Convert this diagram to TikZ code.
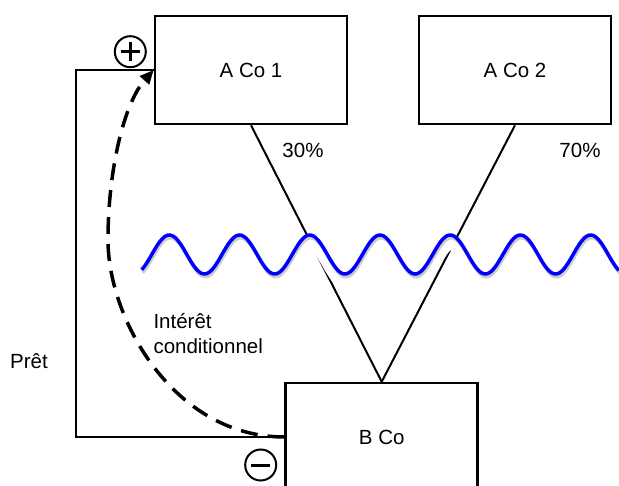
\documentclass[tikz,border=0pt]{standalone}
\usepackage{fontspec}
\setmainfont{Liberation Sans}
\usetikzlibrary{arrows.meta}
\begin{document}
\begin{tikzpicture}[x=1pt, y=-1pt,
		box/.style={draw, line width=2.5pt, minimum width=192pt, minimum height=108pt, font=\fontsize{20.5}{25}\selectfont},
		txt/.style={inner sep=0pt, font=\fontsize{20.5}{25}\selectfont},
		sign/.style={draw, circle, line width=2pt, minimum size=31pt, inner sep=0pt},
		link/.style={line width=2pt},
		pretline/.style={line width=2.5pt},
		dashline/.style={line width=3.5pt, dash pattern=on 17pt off 10pt, -{Triangle[length=14pt, width=12pt]}},
		wave/.style={blue, line width=3.5pt}]
	\path[use as bounding box] (0,0) rectangle (619,486);
	\clip (0,0) rectangle (619,486);
	\node[box] (aco1) at (251,70) {A Co 1};
	\node[box] (aco2) at (515,70) {A Co 2};
	\node[box] (bco) at (381.7,437) {B Co};
	\node[txt] (p30) at (303,150) {30\%};
	\node[txt] (p70) at (580,150) {70\%};
	\node[txt, anchor=base west] (pret) at (10,368.3) {Prêt};
	\node[txt, anchor=base west, align=left] (interet) at (153.3,353.3) {Intérêt\\conditionnel};
	\node[sign] (plus) at (130.3,51.7) {};
	\node[sign] (minus) at (260.7,465) {};
	\draw[line width=3pt] (plus.center) +(-9.5,0) -- +(9.5,0) (plus.center) +(0,-9.5) -- +(0,9.5);
	\draw[line width=3pt] (minus.center) +(-9.5,0) -- +(9.5,0);
	\draw[link] (aco1.south) -- (bco.north);
	\draw[link] (aco2.south) -- (bco.north);
	\draw[white, line width=14pt, shift={(1,8)}] plot[domain=141.7:619, samples=240] (\x, {254.5-19.5*cos(5.12601*(\x-169.3))});
	\draw[black!20, line width=3pt, shift={(1,3)}] plot[domain=141.7:619, samples=240] (\x, {254.5-19.5*cos(5.12601*(\x-169.3))});
	\draw[wave] plot[domain=141.7:619, samples=240] (\x, {254.5-19.5*cos(5.12601*(\x-169.3))});
	\coordinate (corner) at (76,437);
	\coordinate (turn) at (108,240);
	\draw[pretline] (bco.west) -- (corner) |- (aco1.west);
	\draw[dashline] (bco.west) .. controls +(-110,0) and (108,320) .. (turn) .. controls (108,170) and (124,103) .. (aco1.west);
\end{tikzpicture}
\end{document}
